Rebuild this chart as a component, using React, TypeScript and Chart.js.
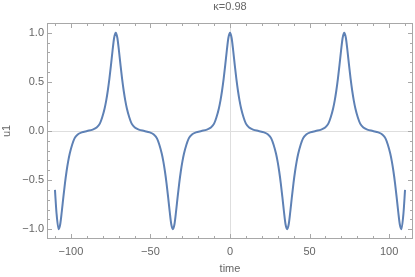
import { useEffect, useRef } from 'react';
import { Chart, registerables } from 'chart.js';

Chart.register(...registerables);

const TITLE = 'κ=0.98';
const X_LABEL = 'time';
const Y_LABEL = 'u1';

const X_TICKS = [-100, -50, 0, 50, 100];
const X_MINOR = [-110, -90, -80, -70, -60, -40, -30, -20, -10, 10, 20, 30, 40, 60, 70, 80, 90, 110];
const Y_TICKS = [-1, -0.5, 0, 0.5, 1];
const Y_MINOR = [-0.9, -0.8, -0.7, -0.6, -0.4, -0.3, -0.2, -0.1, 0.1, 0.2, 0.3, 0.4, 0.6, 0.7, 0.8, 0.9];

const TIME = [
  -110, -109, -107.7, -106.7, -105.7, -104.7, -103.7, -102.7, -101.7, -100.7, -99.2, -97.7, -95.7, -93.2, -89.75,
  -86.3, -83.8, -81.8, -80.3, -78.8, -77.8, -76.8, -75.8, -74.8, -73.8, -72.8, -71.8,
  -70.8, -69.8, -68.8, -67.8, -66.8, -65.8, -64.8, -63.3, -61.8, -59.8, -57.3, -53.85,
  -50.4, -47.9, -45.9, -44.4, -42.9, -41.9, -40.9, -39.9, -38.9, -37.9, -36.9, -35.9,
  -34.9, -33.9, -32.9, -31.9, -30.9, -29.9, -28.9, -27.4, -25.9, -23.9, -21.4, -17.95,
  -14.5, -12, -10, -8.5, -7, -6, -5, -4, -3, -2, -1, 0,
  1, 2, 3, 4, 5, 6, 7, 8.5, 10, 12, 14.5, 17.95,
  21.4, 23.9, 25.9, 27.4, 28.9, 29.9, 30.9, 31.9, 32.9, 33.9, 34.9, 35.9,
  36.9, 37.9, 38.9, 39.9, 40.9, 41.9, 42.9, 44.4, 45.9, 47.9, 50.4, 53.85,
  57.3, 59.8, 61.8, 63.3, 64.8, 65.8, 66.8, 67.8, 68.8, 69.8, 70.8, 71.8,
  72.8, 73.8, 74.8, 75.8, 76.8, 77.8, 78.8, 80.3, 81.8, 83.8, 86.3, 89.75,
  93.2, 95.7, 97.7, 99.2, 100.7, 101.7, 102.7, 103.7, 104.7, 105.7, 106.7, 107.7, 109, 110,
];

const U1 = [
  -0.6, -0.84, -1.0, -0.95, -0.82, -0.67, -0.53, -0.41, -0.31, -0.23, -0.14, -0.075, -0.035, -0.014, 0,
  0.014, 0.035, 0.075, 0.14, 0.23, 0.31, 0.41, 0.53, 0.67, 0.82, 0.95, 1.0,
  0.95, 0.82, 0.67, 0.53, 0.41, 0.31, 0.23, 0.14, 0.075, 0.035, 0.014, 0,
  -0.014, -0.035, -0.075, -0.14, -0.23, -0.31, -0.41, -0.53, -0.67, -0.82, -0.95, -1.0,
  -0.95, -0.82, -0.67, -0.53, -0.41, -0.31, -0.23, -0.14, -0.075, -0.035, -0.014, 0,
  0.014, 0.035, 0.075, 0.14, 0.23, 0.31, 0.41, 0.53, 0.67, 0.82, 0.95, 1.0,
  0.95, 0.82, 0.67, 0.53, 0.41, 0.31, 0.23, 0.14, 0.075, 0.035, 0.014, 0,
  -0.014, -0.035, -0.075, -0.14, -0.23, -0.31, -0.41, -0.53, -0.67, -0.82, -0.95, -1.0,
  -0.95, -0.82, -0.67, -0.53, -0.41, -0.31, -0.23, -0.14, -0.075, -0.035, -0.014, 0,
  0.014, 0.035, 0.075, 0.14, 0.23, 0.31, 0.41, 0.53, 0.67, 0.82, 0.95, 1.0,
  0.95, 0.82, 0.67, 0.53, 0.41, 0.31, 0.23, 0.14, 0.075, 0.035, 0.014, 0,
  -0.014, -0.035, -0.075, -0.14, -0.23, -0.31, -0.41, -0.53, -0.67, -0.82, -0.95, -1.0, -0.84, -0.6,
];

const LINE_COLOR = '#5e81b5';
const FRAME_COLOR = '#a8a8a8';
const TEXT_COLOR = '#666666';
const ZERO_COLOR = '#dedede';
const FONT = "'Liberation Sans', Arial, sans-serif";

const fmt = (v: number, digits: number) => {
  const s = Math.abs(v).toFixed(digits);
  return v < 0 ? '\u2212' + s : s;
};

const framePlugin = {
  id: 'frameTicks',
  afterDatasetsDraw(chart: any) {
    const { ctx, chartArea: a, scales } = chart;
    const xs = scales.x;
    const ys = scales.y;
    ctx.save();
    ctx.strokeStyle = FRAME_COLOR;
    ctx.lineWidth = 1;
    ctx.beginPath();
    const xt = (vals: number[], len: number) => {
      vals.forEach((v) => {
        const px = Math.round(xs.getPixelForValue(v)) + 0.5;
        ctx.moveTo(px, a.bottom);
        ctx.lineTo(px, a.bottom - len);
        ctx.moveTo(px, a.top);
        ctx.lineTo(px, a.top + len);
      });
    };
    const yt = (vals: number[], len: number) => {
      vals.forEach((v) => {
        const py = Math.round(ys.getPixelForValue(v)) + 0.5;
        ctx.moveTo(a.left, py);
        ctx.lineTo(a.left + len, py);
        ctx.moveTo(a.right, py);
        ctx.lineTo(a.right - len, py);
      });
    };
    xt(X_TICKS, 5);
    xt(X_MINOR, 3);
    yt(Y_TICKS, 5);
    yt(Y_MINOR, 3);
    ctx.stroke();
    ctx.strokeRect(a.left + 0.5, a.top + 0.5, a.right - a.left - 1, a.bottom - a.top - 1);
    ctx.restore();
  },
};

export default function App() {
  const ref = useRef<HTMLCanvasElement | null>(null);
  useEffect(() => {
    if (!ref.current) return;
    const points = TIME.map((t, i) => ({ x: t, y: U1[i] }));
    const chart = new Chart(ref.current, {
      type: 'line',
      data: {
        datasets: [
          {
            data: points,
            borderColor: LINE_COLOR,
            borderWidth: 2,
            pointRadius: 0,
            fill: false,
            cubicInterpolationMode: 'monotone',
          },
        ],
      },
      options: {
        responsive: false,
        animation: false,
        layout: { padding: { left: 0, right: 2, top: 0, bottom: 0 } },
        plugins: {
          legend: { display: false },
          tooltip: { enabled: false },
          title: {
            display: true,
            text: TITLE,
            fullSize: false,
            color: TEXT_COLOR,
            font: { family: FONT, size: 11, weight: 'normal' },
            padding: { top: 0, bottom: 9.8 },
          },
        },
        scales: {
          x: {
            type: 'linear',
            min: -115,
            max: 115,
            afterFit: (s: any) => {
              s.height = 38;
            },
            afterBuildTicks: (s: any) => {
              s.ticks = X_TICKS.map((v) => ({ value: v }));
            },
            ticks: {
              color: TEXT_COLOR,
              font: { family: FONT, size: 11 },
              padding: 6,
              maxRotation: 0,
              autoSkip: false,
              callback: (v: any) => fmt(Number(v), 0),
            },
            grid: {
              drawTicks: false,
              color: (c: any) => (c.tick && c.tick.value === 0 ? ZERO_COLOR : 'rgba(0,0,0,0)'),
            },
            border: { display: false },
            title: {
              display: true,
              text: X_LABEL,
              color: TEXT_COLOR,
              font: { family: FONT, size: 11 },
              padding: { top: 0, bottom: 1 },
            },
          },
          y: {
            type: 'linear',
            min: -1.1,
            max: 1.1,
            afterFit: (s: any) => {
              s.width = 47;
            },
            afterBuildTicks: (s: any) => {
              s.ticks = Y_TICKS.map((v) => ({ value: v }));
            },
            ticks: {
              color: TEXT_COLOR,
              font: { family: FONT, size: 11 },
              padding: 3,
              autoSkip: false,
              callback: (v: any) => fmt(Number(v), 1),
            },
            grid: {
              drawTicks: false,
              color: (c: any) => (c.tick && c.tick.value === 0 ? ZERO_COLOR : 'rgba(0,0,0,0)'),
            },
            border: { display: false },
            title: {
              display: true,
              text: Y_LABEL,
              color: TEXT_COLOR,
              font: { family: FONT, size: 11 },
              padding: { top: 0, bottom: 0 },
            },
          },
        },
      },
      plugins: [framePlugin],
    });
    return () => chart.destroy();
  }, []);

  return (
    <div style={{ position: 'absolute', left: 0, top: 0, width: 415, height: 277, background: '#fff' }}>
      <canvas ref={ref} width={415} height={277} style={{ display: 'block' }} />
    </div>
  );
}
